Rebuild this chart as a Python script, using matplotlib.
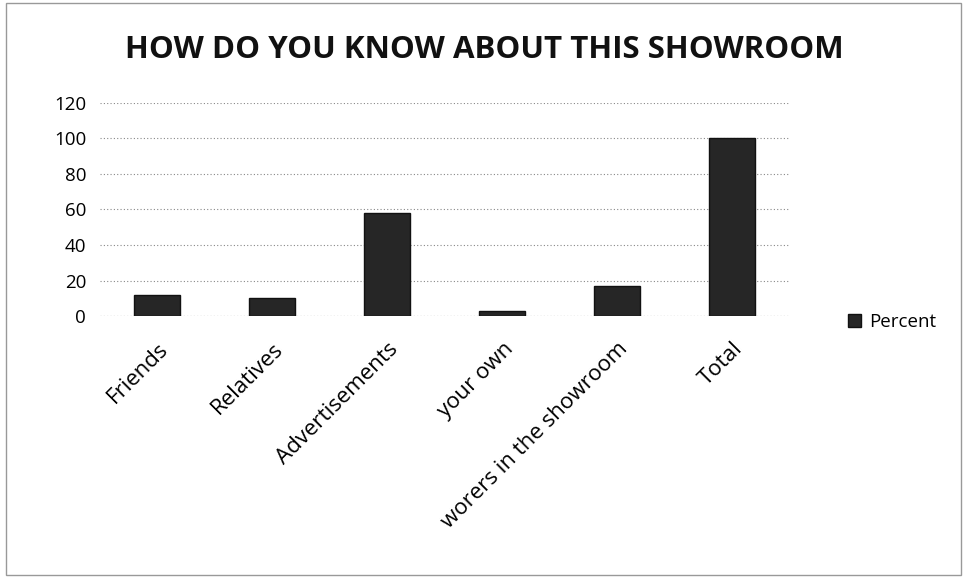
import matplotlib
matplotlib.use("Agg")
import matplotlib.pyplot as plt
from matplotlib.patches import Rectangle

# survey answers, share of respondents in percent
sources = ["Friends", "Relatives", "Advertisements", "your own",
           "worers in the showroom", "Total"]
percent = [12, 10, 58, 3, 17, 100]
yticks = [0, 20, 40, 60, 80, 100, 120]

plt.rcParams['font.family'] = ['Open Sans', 'DejaVu Sans']

fig = plt.figure(figsize=(9.65, 5.81), dpi=100)
ax = fig.add_axes([0.1036, 0.456, 0.715, 0.367])

ax.bar(range(len(sources)), percent, width=0.4, color="#262626",
       edgecolor="#111111", label="Percent", zorder=3)

ax.set_xlim(-0.5, len(sources) - 0.5)
ax.set_ylim(0, 120)
ax.set_yticks(yticks)
ax.set_yticklabels([str(v) for v in yticks], fontsize=13.5)
ax.set_xticks(range(len(sources)))
ax.set_xticklabels(sources, rotation=45, ha="right", rotation_mode="anchor",
                   fontsize=16)
ax.tick_params(axis="y", length=0, pad=10)
ax.tick_params(axis="x", length=0, pad=16)
ax.grid(axis="y", color="#888888", linestyle=(0, (1, 2)), linewidth=0.8, zorder=0)
for s in ax.spines.values():
    s.set_visible(False)
ax.axhline(0, color="#888888", linestyle=(0, (1, 2)), linewidth=0.8, zorder=1)

fig.suptitle("HOW DO YOU KNOW ABOUT THIS SHOWROOM", x=0.502, y=0.94,
             fontsize=22.5, fontweight="bold", color="#111111")

ax.legend(loc="center left", bbox_to_anchor=(1.06, -0.03), frameon=False,
          fontsize=13.5, handlelength=0.7, handleheight=0.7, handletextpad=0.4)

# thin outer frame of the chart area
fig.patches.append(Rectangle((0.006, 0.01), 0.99, 0.985, transform=fig.transFigure,
                             fill=False, edgecolor="#999999", linewidth=1.0))

fig.savefig("out.png", dpi=100)
